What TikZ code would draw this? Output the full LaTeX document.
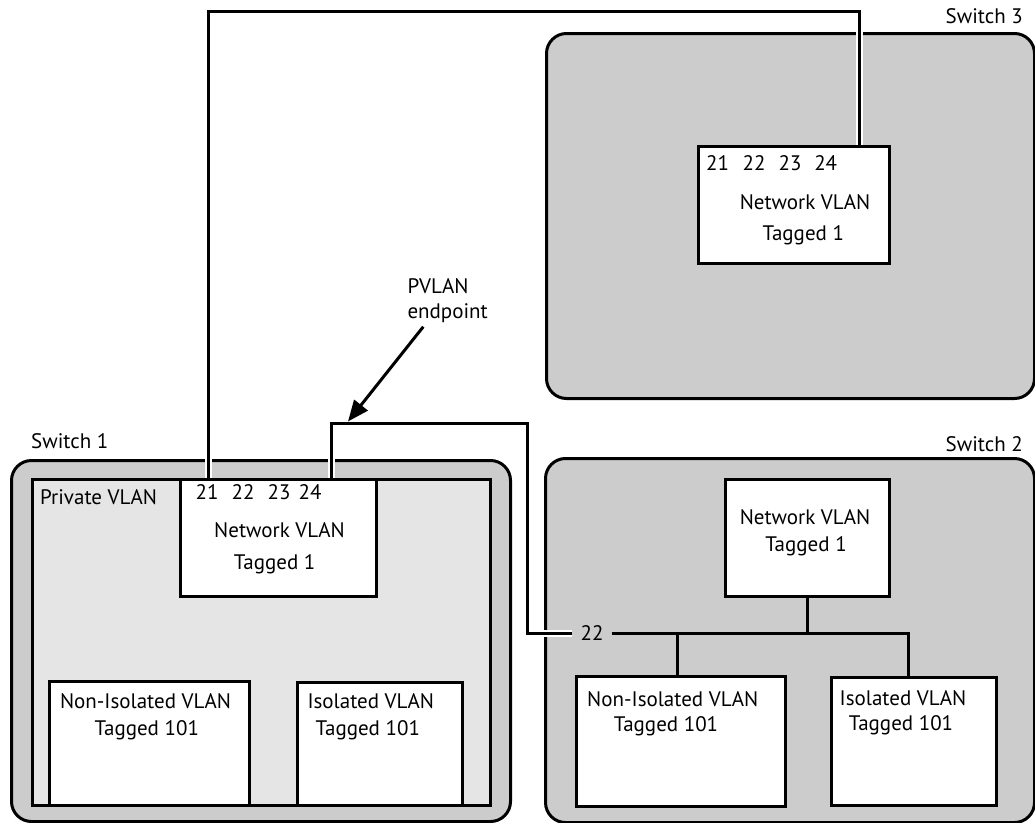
\documentclass[tikz,border=0pt]{standalone}
\usepackage{fontspec}
\setmainfont{PT Sans}
\usetikzlibrary{arrows.meta}
\definecolor{swgray}{RGB}{204,204,204}
\definecolor{pvgray}{RGB}{229,229,229}
\begin{document}
\begin{tikzpicture}[x=1pt,y=-1pt,
  swbox/.style={draw=black, line width=3pt, fill=swgray, rounded corners=20pt, anchor=north west, inner sep=0pt},
  pvbox/.style={draw=black, line width=3pt, fill=pvgray, anchor=north west, inner sep=0pt},
  vbox/.style={draw=black, line width=3pt, fill=white, anchor=north west, inner sep=0pt},
  lbl/.style={font=\fontsize{21}{25}\selectfont, inner sep=0pt},
  cable/.style={line width=3pt, preaction={draw=white, line width=7pt}},
  conn/.style={line width=3pt},
]
\useasboundingbox (0,0) rectangle (1035,822);

% switches
\node[swbox, minimum width=499pt, minimum height=361pt] (sw1) at (10,459) {};
\node[swbox, minimum width=489pt, minimum height=364pt] (sw2) at (544,457) {};
\node[swbox, minimum width=488pt, minimum height=365pt] (sw3) at (545,32) {};
\node[pvbox, minimum width=458.5pt, minimum height=326pt] (pv1) at (30.5,478) {};

\node[lbl, anchor=base west] (sw1lbl) at (31,448) {Switch 1};
\node[lbl, anchor=base east] (sw2lbl) at (1023,451) {Switch 2};
\node[lbl, anchor=base east] (sw3lbl) at (1023,23) {Switch 3};
\node[lbl, anchor=base west] (pvlbl) at (40,504) {Private VLAN};

% cable ends
\coordinate (s1p21) at (208.5,478);
\coordinate (s1p24) at (331,478);
\coordinate (s3p24) at (859.5,145);
\coordinate (ctop) at (208.5,11);
\coordinate (c24r) at (527,423);
\node[lbl, inner xsep=8pt] (sw2p22) at (592,633) {22};

% cables
\draw[cable] (s1p21) -- (ctop) -| (s3p24);
\draw[cable] (s1p24) |- (c24r) |- (sw2p22.west);

% VLAN boxes
\node[vbox, minimum width=196pt, minimum height=117pt] (nv1) at (179,478) {};
\node[vbox, minimum width=200pt, minimum height=124pt] (ni1) at (48,680) {};
\node[vbox, minimum width=165pt, minimum height=123pt] (is1) at (296,681) {};
\node[vbox, minimum width=164pt, minimum height=117pt] (nv2) at (724,478) {};
\node[vbox, minimum width=209pt, minimum height=130pt] (ni2) at (575,675) {};
\node[vbox, minimum width=165pt, minimum height=128pt] (is2) at (830,676) {};
\node[vbox, minimum width=191pt, minimum height=117pt] (nv3) at (697,145) {};

% switch 2 bus
\draw[conn] (sw2p22.east) -| ([xshift=-5.5pt]is2.north);
\draw[conn] (nv2.south) -- (nv2.south |- sw2p22);
\draw[conn] ([xshift=-3.5pt]ni2.north) |- (sw2p22.east);

% texts switch 1
\node[lbl, anchor=base] (s1t21) at (207,499) {21};
\node[lbl, anchor=base] (s1t22) at (243,499) {22};
\node[lbl, anchor=base] (s1t23) at (279,499) {23};
\node[lbl, anchor=base] (s1t24) at (310,499) {24};
\node[lbl, anchor=base] (nv1a) at (279.5,537) {Network VLAN};
\node[lbl, anchor=base] (nv1b) at (274.7,569) {Tagged 1};
\node[lbl, anchor=base] (ni1a) at (145.5,708) {Non-Isolated VLAN};
\node[lbl, anchor=base] (ni1b) at (146.8,735) {Tagged 101};
\node[lbl, anchor=base] (is1a) at (370.8,708) {Isolated VLAN};
\node[lbl, anchor=base] (is1b) at (367.8,735) {Tagged 101};

% texts switch 2
\node[lbl, anchor=base] (nv2a) at (805,524) {Network VLAN};
\node[lbl, anchor=base] (nv2b) at (806,551.7) {Tagged 1};
\node[lbl, anchor=base] (ni2a) at (672.7,706.7) {Non-Isolated VLAN};
\node[lbl, anchor=base] (ni2b) at (666,731.7) {Tagged 101};
\node[lbl, anchor=base] (is2a) at (903,705.7) {Isolated VLAN};
\node[lbl, anchor=base] (is2b) at (901,730) {Tagged 101};

% texts switch 3
\node[lbl, anchor=base] (s3t21) at (717.5,170) {21};
\node[lbl, anchor=base] (s3t22) at (754,170) {22};
\node[lbl, anchor=base] (s3t23) at (790,170) {23};
\node[lbl, anchor=base] (s3t24) at (825.7,170) {24};
\node[lbl, anchor=base] (nv3a) at (805,209.3) {Network VLAN};
\node[lbl, anchor=base] (nv3b) at (803.3,240.7) {Tagged 1};

% PVLAN endpoint
\node[lbl, anchor=base west] (pvl1) at (407.3,293.3) {PVLAN};
\node[lbl, anchor=base west] (pvl2) at (407.3,318.3) {endpoint};
\coordinate (pvtip) at (348,421.5);
\draw[conn, -{Triangle[length=21pt,width=17pt]}] ([xshift=16pt,yshift=-4pt]pvl2.south west) -- (pvtip);
\end{tikzpicture}
\end{document}
